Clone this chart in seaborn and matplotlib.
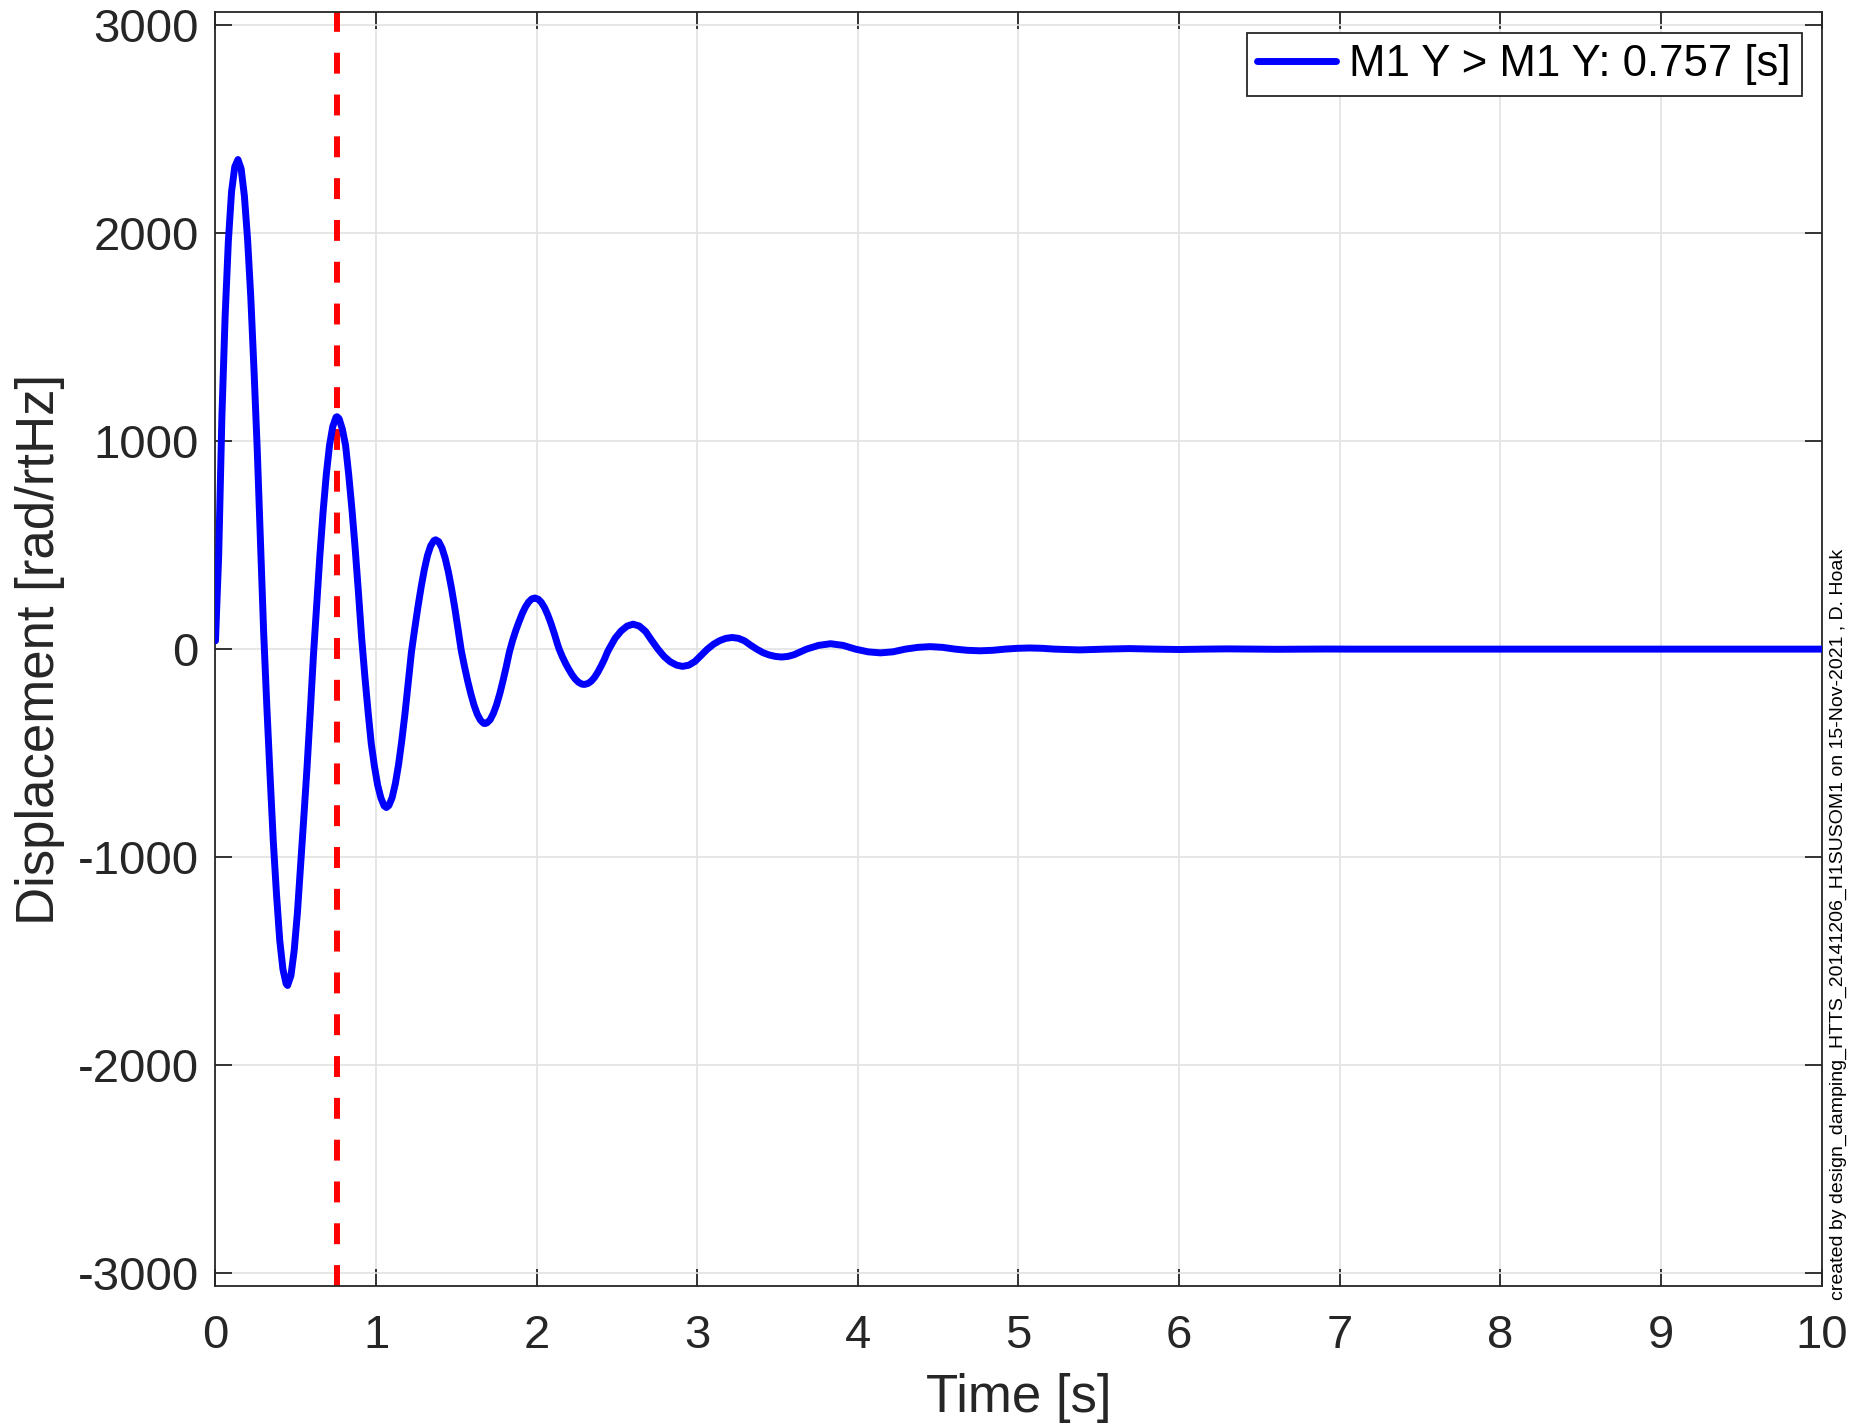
import pandas as pd
import matplotlib
matplotlib.use("Agg")
import matplotlib.pyplot as plt
import seaborn as sns

# time [s] and displacement
time_s = [0.0, 0.02, 0.04, 0.06, 0.08, 0.10, 0.12, 0.14,
          0.16, 0.18, 0.20, 0.22, 0.24, 0.26, 0.28, 0.30,
          0.32, 0.34, 0.36, 0.38, 0.40, 0.42, 0.44, 0.449,
          0.47, 0.49, 0.51, 0.53, 0.55, 0.57, 0.59, 0.61,
          0.63, 0.65, 0.67, 0.69, 0.71, 0.73, 0.75, 0.757,
          0.77, 0.79, 0.81, 0.83, 0.85, 0.87, 0.89, 0.91,
          0.93, 0.95, 0.97, 0.99, 1.01, 1.03, 1.05, 1.064,
          1.08, 1.10, 1.12, 1.14, 1.16, 1.18, 1.20, 1.22,
          1.24, 1.26, 1.28, 1.30, 1.32, 1.34, 1.36, 1.371,
          1.39, 1.41, 1.43, 1.45, 1.47, 1.49, 1.51, 1.53,
          1.55, 1.57, 1.59, 1.61, 1.63, 1.65, 1.67, 1.678,
          1.69, 1.71, 1.73, 1.75, 1.77, 1.79, 1.81, 1.83,
          1.85, 1.87, 1.89, 1.91, 1.93, 1.95, 1.97, 1.989,
          2.01, 2.03, 2.05, 2.07, 2.09, 2.11, 2.13, 2.14,
          2.16, 2.18, 2.20, 2.22, 2.24, 2.26, 2.28, 2.297,
          2.32, 2.34, 2.36, 2.38, 2.40, 2.42, 2.44, 2.45,
          2.488, 2.525, 2.563, 2.60, 2.639, 2.678, 2.716, 2.755,
          2.794, 2.832, 2.871, 2.909, 2.948, 2.986, 3.025, 3.063,
          3.102, 3.140, 3.179, 3.218, 3.256, 3.294, 3.332, 3.37,
          3.409, 3.447, 3.486, 3.525, 3.564, 3.602, 3.641, 3.68,
          3.755, 3.83, 3.908, 3.985, 4.063, 4.14, 4.218, 4.295,
          4.373, 4.45, 4.528, 4.605, 4.683, 4.76, 4.838, 4.915,
          4.993, 5.07, 5.148, 5.225, 5.38, 5.535, 5.69, 5.845,
          6.0, 6.15, 6.3, 6.46, 6.61, 6.76, 6.92, 7.07, 8.0, 10.0]
displacement = [40, 450, 1120, 1600, 1960, 2200, 2320, 2355,
                2310, 2180, 1970, 1690, 1340, 960, 520, 80,
                -280, -610, -925, -1180, -1400, -1540, -1610, -1618,
                -1570, -1450, -1270, -1040, -810, -570, -305, -30,
                210, 450, 660, 840, 980, 1070, 1115, 1118,
                1108, 1058, 980, 836, 670, 482, 274, 55,
                -130, -300, -455, -565, -655, -716, -754, -762,
                -752, -714, -647, -555, -440, -310, -165, -15,
                95, 200, 296, 381, 450, 497, 522, 526,
                517, 487, 438, 372, 291, 199, 98, -5,
                -82, -152, -215, -270, -313, -342, -357, -358,
                -355, -340, -310, -268, -215, -153, -86, -14,
                42, 90, 132, 171, 203, 227, 242, 246,
                240, 224, 198, 163, 121, 74, 23, 0,
                -37, -69, -97, -123, -144, -159, -168, -170,
                -165, -154, -136, -112, -83, -52, -15, 0,
                52, 87, 111, 120, 111, 85, 42, 0,
                -36, -61, -77, -83, -77, -59, -29, 0,
                24, 41, 52, 56, 52, 40, 19, 0,
                -17, -28, -35, -38, -35, -27, -13.5, 0,
                18, 26, 18, 0, -13, -18, -13, 0,
                8.5, 12, 8.5, 0, -5.7, -8, -5.7, 0,
                3.9, 5.5, 3.9, 0, -3.8, 0, 2.6, 0,
                -1.8, 0, 1.2, 0, -0.8, 0, 0.5, 0, 0, 0]
marker_time = 0.757
legend_label = "M1 Y > M1 Y: 0.757 [s]"
credit = "created by design_damping_HTTS_20141206_H1SUSOM1 on 15-Nov-2021 , D. Hoak"

df = pd.DataFrame({"t": time_s, "disp": displacement})

sns.set_theme(style="whitegrid")
plt.rcParams["font.family"] = ["Liberation Sans", "DejaVu Sans"]
plt.rcParams["axes.unicode_minus"] = False

dark = "#262626"
fig = plt.figure(figsize=(18.64, 14.24), dpi=100)
ax = fig.add_axes([0.1156, 0.0967, 0.8616, 0.8949])

sns.lineplot(data=df, x="t", y="disp", ax=ax, color="#0000ff", lw=5,
             sort=False, label=legend_label, zorder=3)
ax.axvline(marker_time, color="#ff0000", lw=4.3, dashes=(3.5, 3.5), zorder=2)

ax.set_xlim(0, 10)
ax.set_ylim(-3065, 3065)
ax.set_xticks(range(0, 11))
ax.set_yticks([-3000, -2000, -1000, 0, 1000, 2000, 3000])

ax.set_facecolor("white")
ax.grid(True, color="#e2e2e2", lw=1.2)
for s in ax.spines.values():
    s.set_visible(True)
    s.set_color(dark)
    s.set_linewidth(1.3)
ax.tick_params(direction="in", length=12, width=1.3, color=dark,
               labelsize=34, labelcolor=dark, top=True, right=True,
               left=True, bottom=True)
ax.tick_params(axis="x", pad=20)
ax.tick_params(axis="y", pad=12)

ax.set_xlabel("Time [s]", fontsize=38, color=dark, labelpad=11)
ax.set_ylabel("Displacement [rad/rtHz]", fontsize=38, color=dark, labelpad=9)

leg = ax.legend(loc="upper right", fontsize=31.5, frameon=True, fancybox=False,
                handlelength=1.8, borderpad=0.25, handletextpad=0.3,
                borderaxespad=0, bbox_to_anchor=(0.9878, 0.9835))
leg.get_frame().set_edgecolor(dark)
leg.get_frame().set_linewidth(1.3)
leg.get_frame().set_alpha(1)
for txt in leg.get_texts():
    txt.set_color("black")

fig.text(0.9862, 0.087, credit, rotation=90, fontsize=14, color="black",
         ha="center", va="bottom")

fig.savefig("out.png", dpi=100, facecolor="white")
